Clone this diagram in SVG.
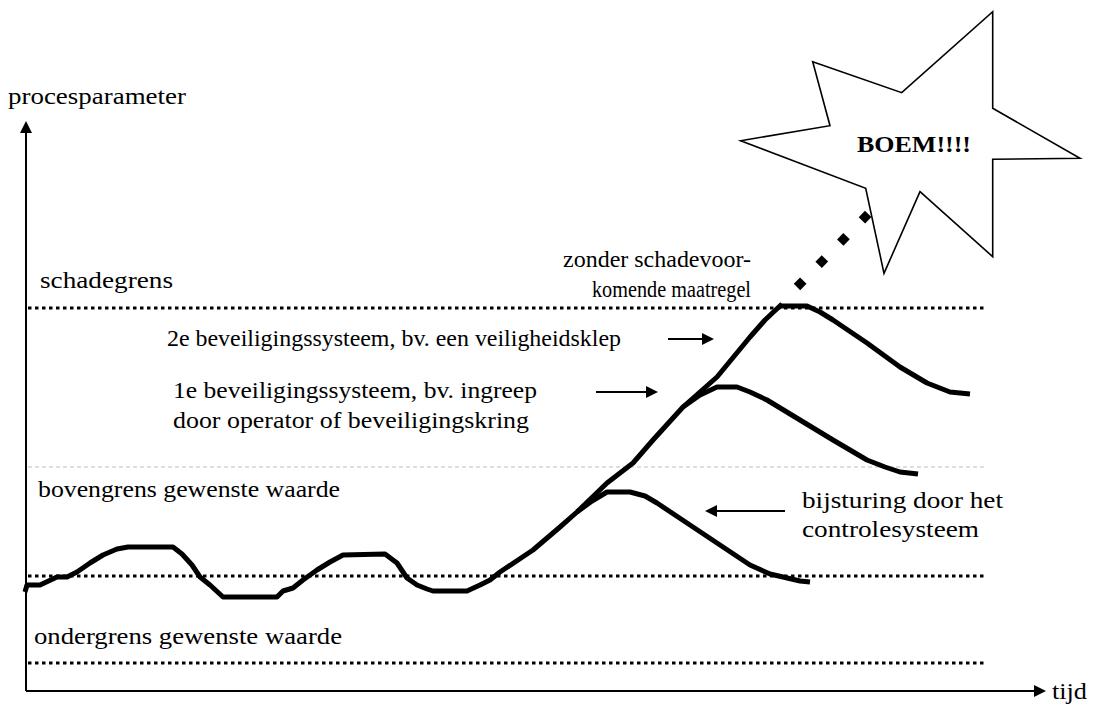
<svg xmlns="http://www.w3.org/2000/svg" width="1103" height="706" viewBox="0 0 1103 706" font-family="'Liberation Serif', 'Times New Roman', Times, serif">
<defs>
<style>
text{font-family:'Liberation Serif','Times New Roman',Times,serif;font-size:24px;fill:#000}
.b{font-weight:bold}
.axis{stroke:#000;stroke-width:2;fill:none}
.dot{stroke:#000;stroke-width:3;stroke-dasharray:3.5 3.5;fill:none}
.gray{stroke:#bdbdbd;stroke-width:1;stroke-dasharray:4 3;fill:none}
.curve{stroke:#000;stroke-width:5;fill:none;stroke-linejoin:round;stroke-linecap:butt}
.arr{stroke:#000;stroke-width:2;fill:none}
.head{fill:#000}
</style>
</defs>
<rect width="1103" height="706" fill="#fff"/>
<g id="axes">
<line class="axis" x1="26" y1="691" x2="26" y2="130"/>
<polygon class="head" points="26,121 20,133 32,133"/>
<line class="axis" x1="26" y1="691" x2="1036" y2="691"/>
<polygon class="head" points="1046,691 1034,685 1034,697"/>
<text x="8" y="104" textLength="178" lengthAdjust="spacingAndGlyphs">procesparameter</text>
<text x="1052" y="699" textLength="35" lengthAdjust="spacingAndGlyphs">tijd</text>
</g>
<g id="limits">
<line class="dot" x1="28" y1="308" x2="984" y2="308"/>
<line class="gray" x1="28" y1="467" x2="985" y2="467"/>
<line class="dot" x1="28" y1="576" x2="984" y2="576"/>
<line class="dot" x1="28" y1="663" x2="984" y2="663"/>
<text x="40" y="288" textLength="133" lengthAdjust="spacingAndGlyphs">schadegrens</text>
<text x="38" y="497" textLength="302" lengthAdjust="spacingAndGlyphs">bovengrens gewenste waarde</text>
<text x="34" y="644" textLength="308" lengthAdjust="spacingAndGlyphs">ondergrens gewenste waarde</text>
</g>
<g id="boem">
<polygon points="992.7,11.7 992.7,108.3 1080,158.3 992.7,159.3 992.7,256.7 920,191.7 884,273.3 865.7,188.3 740.7,140.7 830,125.7 812.7,61.7 901.7,92.7" fill="#fff" stroke="#000" stroke-width="1.6" stroke-linejoin="miter"/>
<text class="b" x="857" y="152" textLength="114" lengthAdjust="spacingAndGlyphs">BOEM!!!!</text>
</g>
<g id="label-zonder">
<text x="563" y="267" textLength="188" lengthAdjust="spacingAndGlyphs">zonder schadevoor-</text>
<text x="592" y="297" style="font-size:23px" textLength="159" lengthAdjust="spacingAndGlyphs">komende maatregel</text>
</g>
<g id="label-2e">
<text x="167" y="346" textLength="454" lengthAdjust="spacingAndGlyphs">2e beveiligingssysteem, bv. een veiligheidsklep</text>
</g>
<g id="label-1e">
<text x="173" y="398" textLength="364" lengthAdjust="spacingAndGlyphs">1e beveiligingssysteem, bv. ingreep</text>
<text x="173" y="428" textLength="356" lengthAdjust="spacingAndGlyphs">door operator of beveiligingskring</text>
</g>
<g id="label-bijsturing">
<text x="802" y="508" textLength="201" lengthAdjust="spacingAndGlyphs">bijsturing door het</text>
<text x="802" y="537" textLength="177" lengthAdjust="spacingAndGlyphs">controlesysteem</text>
</g>
<g id="connectors">
<path class="curve" d="M25,592 L27,585 L40,585 L57,577 L67,577 L77,572 L90,563 L103,555 L117,549 L128,547 L173,547 L182,554 L192,565 L200,577 L210,585 L223,597 L277,597 L283,591 L293,588 L303,580 L317,570 L330,562 L343,555 L385,554 L397,563 L407,578 L417,585 L427,589 L433,591 L467,591 L480,585 L490,580 L500,572 L533,550 L560,527 L577,512 L607,483 L633,463 L653,440 L683,407 L717,377 L750,337 L765,320 L782,304"/>
<path class="curve" d="M577,512 L592,501 L607,492 L630,492 L645,496 L657,503 L687,523 L717,543 L750,565 L770,574 L783,577 L800,581 L810,582"/>
<path class="curve" d="M683,407 L700,395 L717,387 L737,387 L750,392 L767,400 L800,420 L833,440 L867,460 L885,467 L900,472 L918,474"/>
<path class="curve" d="M780,306 L807,306 L820,312 L833,320 L867,343 L900,367 L927,383 L950,392 L970,394"/>
<line stroke="#000" stroke-width="9" stroke-dasharray="9 22" x1="797" y1="287" x2="873" y2="209"/>
<line class="arr" x1="668" y1="339" x2="704" y2="339"/>
<polygon class="head" points="714,339 702,333 702,345"/>
<line class="arr" x1="596" y1="392" x2="648" y2="392"/>
<polygon class="head" points="658,392 646,386 646,398"/>
<line class="arr" x1="785" y1="511" x2="715" y2="511"/>
<polygon class="head" points="705,511 717,505 717,517"/>
</g>
</svg>
